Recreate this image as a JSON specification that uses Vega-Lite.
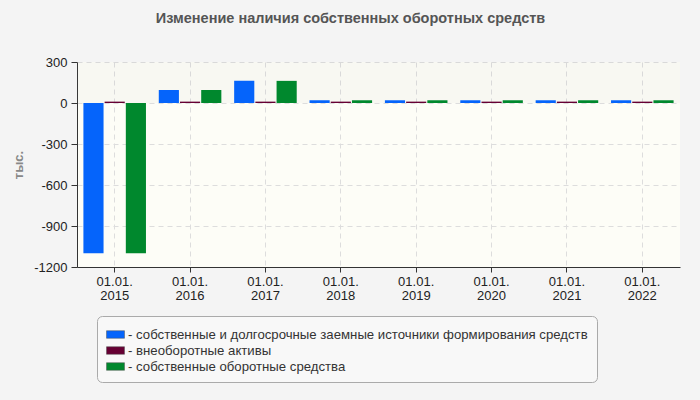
{
  "$schema": "https://vega.github.io/schema/vega-lite/v6.json",
  "width": 603,
  "height": 205,
  "autosize": {"type": "none"},
  "padding": {"left": 77, "top": 62, "right": 20, "bottom": 133},
  "background": "#f4f4f4",
  "title": {
    "text": "Изменение наличия собственных оборотных средств",
    "font": "Liberation Sans",
    "fontSize": 14.5,
    "fontWeight": "bold",
    "color": "#555555",
    "anchor": "middle",
    "dx": -28,
    "offset": 30
  },
  "datasets": {
    "bars": [
      {"year": "2015", "series": "собственные и долгосрочные заемные источники формирования средств", "value": -1100},
      {"year": "2015", "series": "внеоборотные активы", "value": 10},
      {"year": "2015", "series": "собственные оборотные средства", "value": -1100},
      {"year": "2016", "series": "собственные и долгосрочные заемные источники формирования средств", "value": 95},
      {"year": "2016", "series": "внеоборотные активы", "value": 10},
      {"year": "2016", "series": "собственные оборотные средства", "value": 95},
      {"year": "2017", "series": "собственные и долгосрочные заемные источники формирования средств", "value": 162},
      {"year": "2017", "series": "внеоборотные активы", "value": 10},
      {"year": "2017", "series": "собственные оборотные средства", "value": 162},
      {"year": "2018", "series": "собственные и долгосрочные заемные источники формирования средств", "value": 20},
      {"year": "2018", "series": "внеоборотные активы", "value": 10},
      {"year": "2018", "series": "собственные оборотные средства", "value": 20},
      {"year": "2019", "series": "собственные и долгосрочные заемные источники формирования средств", "value": 20},
      {"year": "2019", "series": "внеоборотные активы", "value": 10},
      {"year": "2019", "series": "собственные оборотные средства", "value": 20},
      {"year": "2020", "series": "собственные и долгосрочные заемные источники формирования средств", "value": 20},
      {"year": "2020", "series": "внеоборотные активы", "value": 10},
      {"year": "2020", "series": "собственные оборотные средства", "value": 20},
      {"year": "2021", "series": "собственные и долгосрочные заемные источники формирования средств", "value": 20},
      {"year": "2021", "series": "внеоборотные активы", "value": 10},
      {"year": "2021", "series": "собственные оборотные средства", "value": 20},
      {"year": "2022", "series": "собственные и долгосрочные заемные источники формирования средств", "value": 20},
      {"year": "2022", "series": "внеоборотные активы", "value": 10},
      {"year": "2022", "series": "собственные оборотные средства", "value": 20}
    ]
  },
  "layer": [
    {
      "data": {"values": [{"lo": 0, "hi": 300}]},
      "mark": {"type": "rect", "fill": "#999999", "fillOpacity": 0.05},
      "encoding": {
        "y": {"field": "lo", "type": "quantitative"},
        "y2": {"field": "hi"}
      }
    },
    {
      "data": {"name": "bars"},
      "mark": {"type": "bar"},
      "encoding": {
        "x": {
          "field": "year",
          "type": "nominal",
          "scale": {"paddingInner": 0.17, "paddingOuter": 0.085},
          "axis": {
            "title": null,
            "labelAngle": 0,
            "labelExpr": "['01.01.', datum.label]",
            "labelLineHeight": 14,
            "labelPadding": 3,
            "tickSize": 5,
            "bandPosition": 0.5,
            "grid": true
          }
        },
        "xOffset": {
          "field": "series",
          "type": "nominal",
          "sort": [
            "собственные и долгосрочные заемные источники формирования средств",
            "внеоборотные активы",
            "собственные оборотные средства"
          ],
          "scale": {"paddingInner": 0.05}
        },
        "y": {
          "field": "value",
          "type": "quantitative",
          "scale": {"domain": [-1200, 300], "nice": false},
          "axis": {
            "values": [-1200, -900, -600, -300, 0, 300],
            "labelExpr": "'' + datum.value",
            "title": "тыс.",
            "titleColor": "#888888",
            "titleFontWeight": "bold",
            "titleFontSize": 13,
            "titlePadding": 8,
            "tickSize": 6,
            "labelPadding": 4
          }
        },
        "color": {
          "field": "series",
          "type": "nominal",
          "scale": {
            "domain": [
              "собственные и долгосрочные заемные источники формирования средств",
              "внеоборотные активы",
              "собственные оборотные средства"
            ],
            "range": ["#0564fb", "#660033", "#00882d"]
          },
          "legend": {
            "title": null,
            "orient": "none",
            "legendX": 20,
            "legendY": 254,
            "direction": "vertical",
            "fillColor": "#f8f8f8",
            "strokeColor": "#aaaaaa",
            "cornerRadius": 5,
            "padding": 9,
            "symbolType": "M-1,-0.42H1V0.42H-1Z",
            "symbolSize": 324,
            "symbolStrokeColor": "#555555",
            "symbolStrokeWidth": 0.5,
            "labelOffset": 3,
            "rowPadding": -1,
            "labelFontSize": 13.2,
            "labelColor": "#333333",
            "labelLimit": 700,
            "labelExpr": "'- ' + datum.label"
          }
        }
      }
    }
  ],
  "config": {
    "font": "Liberation Sans",
    "view": {"fill": "#fdfdf7", "stroke": null},
    "axis": {
      "domainColor": "#333333",
      "tickColor": "#333333",
      "labelColor": "#222222",
      "labelFont": "Liberation Sans",
      "labelFontSize": 13,
      "titleFont": "Liberation Sans",
      "gridColor": "#dddddd",
      "gridDash": [5, 4]
    }
  }
}
